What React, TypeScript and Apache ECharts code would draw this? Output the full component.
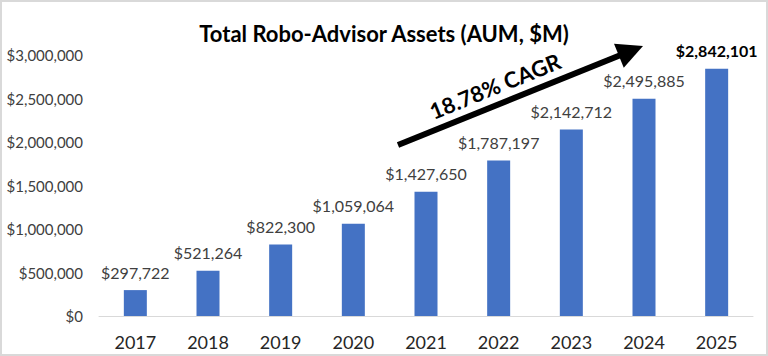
import React, { useEffect, useRef } from "react";
import * as echarts from "echarts";

const years = ["2017", "2018", "2019", "2020", "2021", "2022", "2023", "2024", "2025"];
const assets = [297722, 521264, 822300, 1059064, 1427650, 1787197, 2142712, 2495885, 2842101];
const yTicks = { min: 0, max: 3000000, interval: 500000 };
const titleText = "Total Robo-Advisor Assets (AUM, $M)";
const cagrText = "18.78% CAGR";

const fmt = (v: number) => "$" + Math.round(v).toLocaleString("en-US");

export default function App() {
  const ref = useRef<HTMLDivElement>(null);
  useEffect(() => {
    document.body.style.margin = "0";
    const chart = echarts.init(ref.current!, null, { renderer: "svg" });
    const start = [398, 145];
    const tip = [643, 46];
    const dx = tip[0] - start[0];
    const dy = tip[1] - start[1];
    const len = Math.sqrt(dx * dx + dy * dy);
    const ux = dx / len, uy = dy / len;
    const nx = -uy, ny = ux;
    const headLen = 26, headHalf = 13;
    const bx = tip[0] - headLen * ux, by = tip[1] - headLen * uy;
    const angle = Math.atan2(-dy, dx);
    const font = "Lato, 'Open Sans', sans-serif";
    chart.setOption({
      animation: false,
      textStyle: { fontFamily: font },
      title: {
        text: titleText,
        left: "center",
        top: 17,
        textStyle: { fontSize: 22, fontWeight: "bold", color: "#000", fontFamily: font },
      },
      grid: { left: 99, right: 15, top: 55, bottom: 40, containLabel: false },
      xAxis: {
        type: "category",
        data: years,
        axisTick: { show: false },
        axisLine: { lineStyle: { color: "#d9d9d9", width: 1 } },
        axisLabel: { fontSize: 18, color: "#262626", margin: 17, fontFamily: font },
      },
      yAxis: {
        type: "value",
        min: yTicks.min,
        max: yTicks.max,
        interval: yTicks.interval,
        splitLine: { show: false },
        axisLine: { show: false },
        axisTick: { show: false },
        axisLabel: { fontSize: 15, color: "#404040", margin: 16, formatter: (v: number) => fmt(v), fontFamily: font },
      },
      series: [
        {
          type: "bar",
          barWidth: 23,
          itemStyle: { color: "#4472C4" },
          label: {
            show: true,
            position: "top",
            distance: 10,
            fontSize: 16,
            color: "#404040",
            fontFamily: font,
            formatter: (p: any) => fmt(p.value),
          },
          data: assets.map((v, i) =>
            i === assets.length - 1
              ? { value: v, label: { fontWeight: "bold", color: "#000", fontSize: 16 } }
              : v
          ),
        },
      ],
      graphic: [
        {
          type: "rect",
          shape: { x: 1, y: 1, width: 766, height: 354 },
          style: { fill: "none", stroke: "#d9d9d9", lineWidth: 2 },
          silent: true,
        },
        {
          type: "line",
          shape: { x1: start[0], y1: start[1], x2: bx + 2 * ux, y2: by + 2 * uy },
          style: { stroke: "#000", lineWidth: 6 },
        },
        {
          type: "polygon",
          shape: {
            points: [
              [tip[0], tip[1]],
              [bx + headHalf * nx, by + headHalf * ny],
              [bx - headHalf * nx, by - headHalf * ny],
            ],
          },
          style: { fill: "#000" },
        },
        {
          type: "text",
          x: 495,
          y: 86,
          rotation: angle,
          style: {
            text: cagrText,
            font: "bold 22px " + font,
            fill: "#000",
            align: "center",
            verticalAlign: "middle",
          },
        },
      ],
    });
    return () => chart.dispose();
  }, []);
  return <div ref={ref} style={{ width: 768, height: 356 }} />;
}
